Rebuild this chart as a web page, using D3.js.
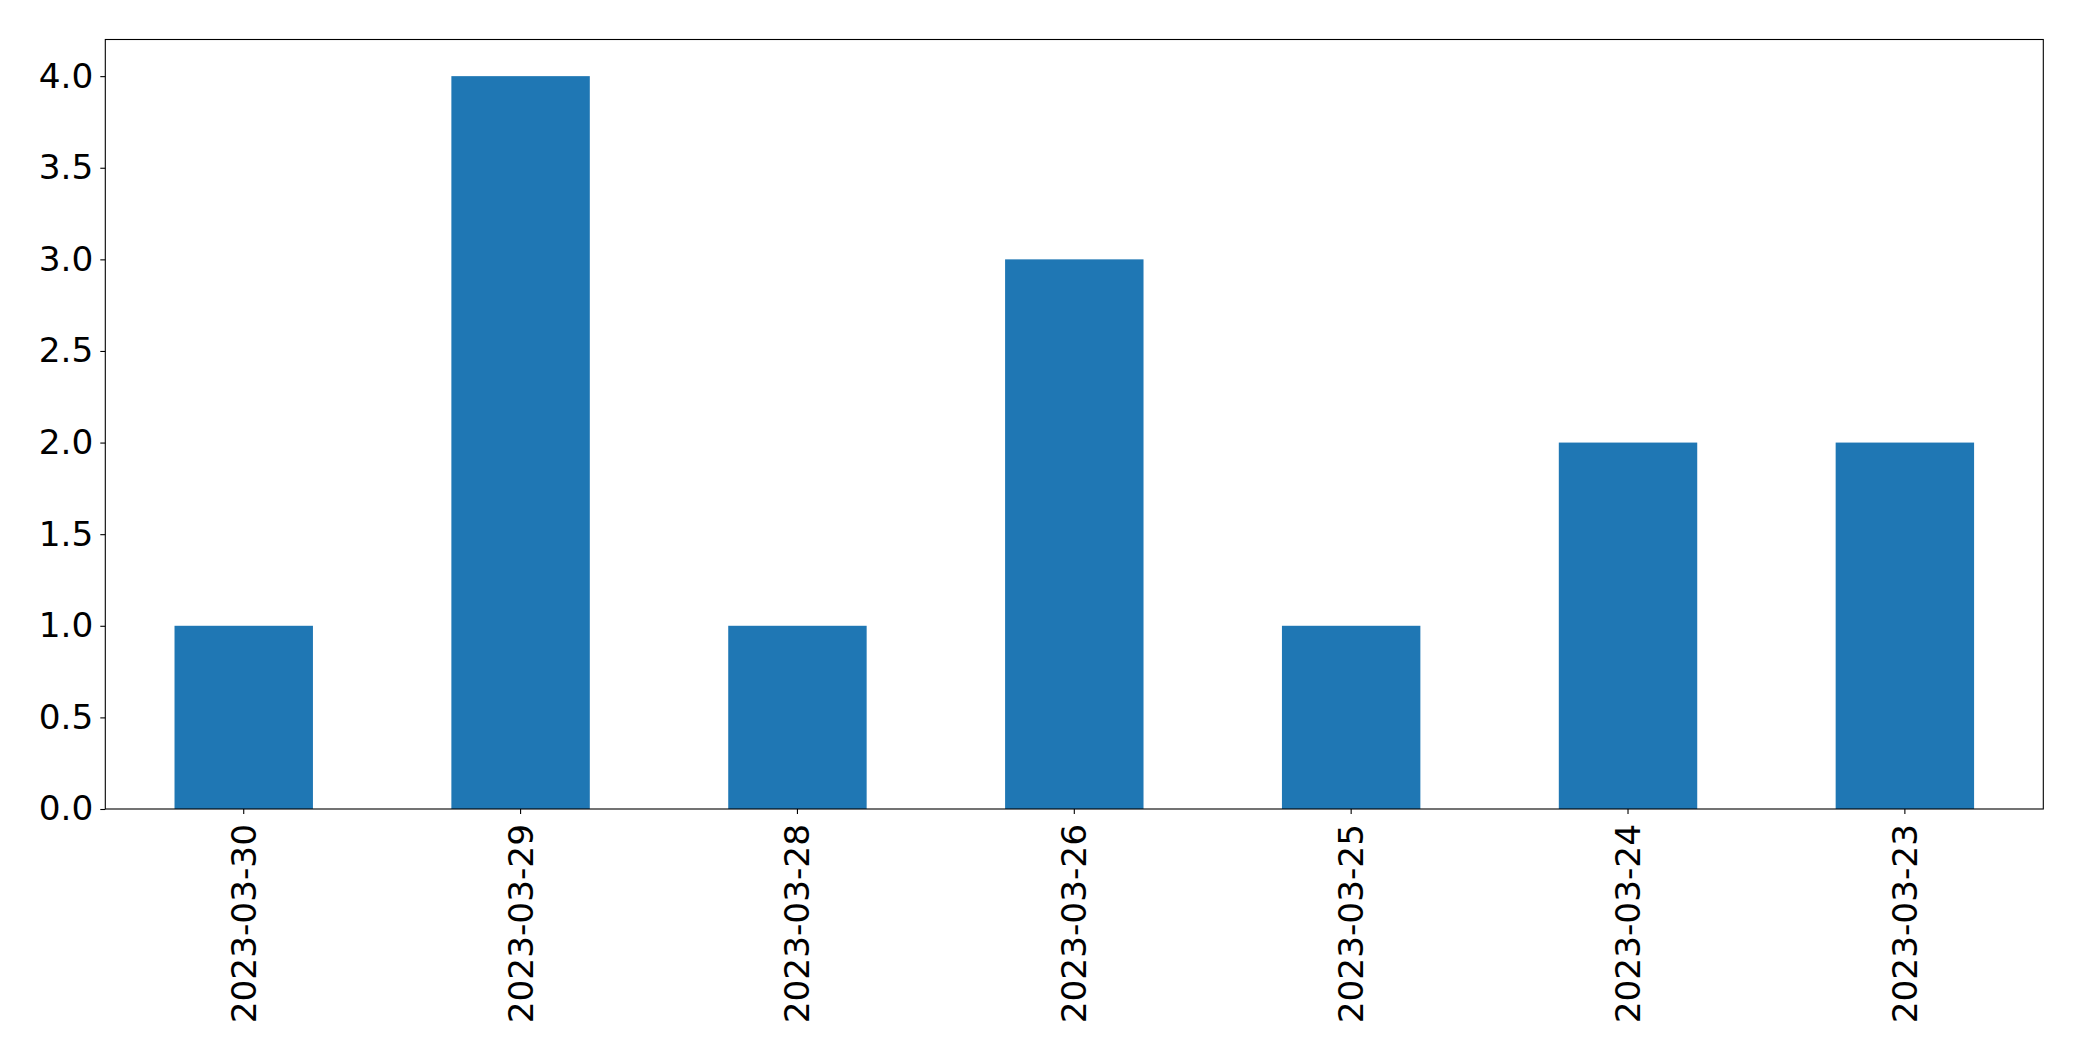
<!DOCTYPE html>
<html>
<head>
<meta charset="utf-8">
<script src="https://cdn.jsdelivr.net/npm/d3@7"></script>
<style>
html,body{margin:0;padding:0;background:#fff;}
svg{display:block;}
</style>
</head>
<body>
<svg id="chart" width="2082" height="1061"></svg>
<script>
const categories = ["2023-03-30","2023-03-29","2023-03-28","2023-03-26","2023-03-25","2023-03-24","2023-03-23"];
const values = [1, 4, 1, 3, 1, 2, 2];
const yTicks = [0, 0.5, 1.0, 1.5, 2.0, 2.5, 3.0, 3.5, 4.0];

const W = 2082, H = 1061;
const margin = {left: 105.3, right: W - 2043.3, top: 39.5, bottom: H - 809};
const svg = d3.select("#chart");
const iw = W - margin.left - margin.right;
const ih = H - margin.top - margin.bottom;
const g = svg.append("g").attr("transform", `translate(${margin.left},${margin.top})`);

const x = d3.scaleBand().domain(categories).range([0, iw]).paddingInner(0.5).paddingOuter(0.25);
const y = d3.scaleLinear().domain([0, 4.2]).range([ih, 0]);

g.selectAll("rect.bar").data(values).enter().append("rect")
  .attr("class","bar")
  .attr("x", (d,i) => x(categories[i]))
  .attr("width", x.bandwidth())
  .attr("y", d => y(d))
  .attr("height", d => ih - y(d))
  .attr("fill", "#1f77b4");

const font = "DejaVu Sans, sans-serif";
const fs = 34.3;

const yAxis = d3.axisLeft(y).tickValues(yTicks).tickFormat(d3.format(".1f")).tickSize(5).tickPadding(7);
const ya = g.append("g").call(yAxis);
ya.select(".domain").remove();
ya.selectAll("line").attr("stroke","#000").attr("stroke-width",1.1);
ya.selectAll("text").attr("font-family", font).attr("font-size", fs).attr("fill","#000");

const xAxis = d3.axisBottom(x).tickSize(5).tickPadding(0);
const xa = g.append("g").attr("transform", `translate(0,${ih})`).call(xAxis);
xa.select(".domain").remove();
xa.selectAll("line").attr("stroke","#000").attr("stroke-width",1.1);
xa.selectAll("text")
  .attr("font-family", font).attr("font-size", fs).attr("fill","#000")
  .attr("y", 0).attr("dy", null)
  .attr("text-anchor","end")
  .attr("dominant-baseline","central")
  .attr("transform","translate(0,15) rotate(-90)");

g.append("rect").attr("x",0).attr("y",0).attr("width",iw).attr("height",ih)
  .attr("fill","none").attr("stroke","#000").attr("stroke-width",1.1);
</script>
</body>
</html>
